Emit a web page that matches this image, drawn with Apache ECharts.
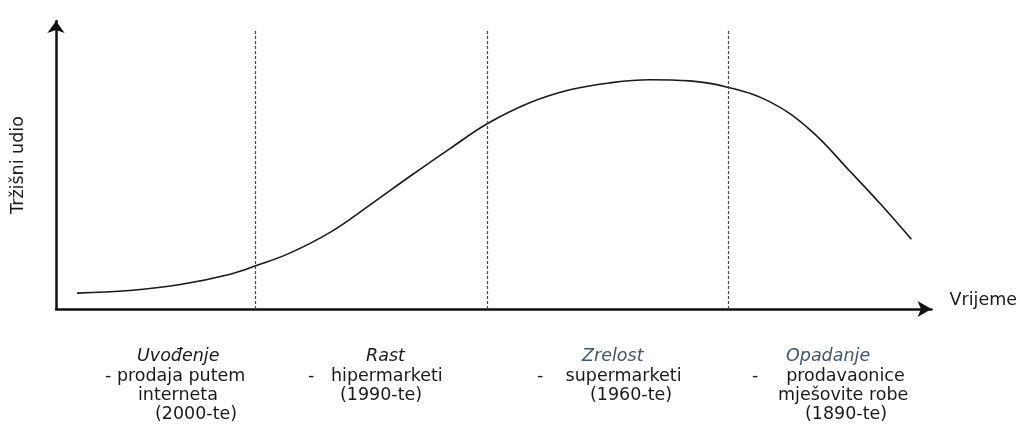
<!DOCTYPE html>
<html>
<head>
<meta charset="utf-8">
<script src="https://cdn.jsdelivr.net/npm/echarts@6/dist/echarts.min.js"></script>
<style>
  html, body { margin: 0; padding: 0; background: #fff; }
  #chart { width: 1020px; height: 425px; }
</style>
</head>
<body>
<div id="chart"></div>
<script>
"use strict";

// krivulja životnog ciklusa (vrijeme, tržišni udio)
var timeVals  = [2.4, 8.4, 14.2, 19.9, 22.9, 26.7, 31.3, 35.8, 40.4, 45.0, 49.3, 54.1, 58.7, 63.2, 67.8, 72.4, 76.7, 81.5, 86.1, 90.6, 94.1, 97.7];
var shareVals = [5.5, 6.4, 8.5, 12.1, 15.1, 19.4, 26.6, 36.0, 46.0, 55.7, 64.4, 71.6, 76.1, 78.5, 79.6, 79.2, 77.0, 72.0, 62.3, 48.1, 36.7, 24.2];

// granice faza
var phaseBounds = [22.8, 49.3, 76.8];

var phaseNames = ["Uvođenje", "Rast", "Zrelost", "Opadanje"];
var phaseLines = [
    ["- prodaja putem", "interneta", "(2000-te)"],
    ["-   hipermarketi", "(1990-te)"],
    ["-    supermarketi", "(1960-te)"],
    ["-     prodavaonice", "mješovite robe", "(1890-te)"]
];

var chart = echarts.init(document.getElementById("chart"));

var font = "DejaVu Sans, Verdana, sans-serif";
var fs = 17.5;
var nameColors = ["#1a1a1a", "#1a1a1a", "#44546a", "#44546a"];
var nameLeft = [137, 366, 582, 786];
var lineLeft = [
    [105, 138, 155],
    [308, 340],
    [537, 590],
    [752, 778, 805]
];

var graphics = [];
phaseNames.forEach(function (n, i) {
    graphics.push({
        type: "text", left: nameLeft[i], top: 347,
        style: { text: n, font: "italic " + fs + "px " + font, fill: nameColors[i] }
    });
    phaseLines[i].forEach(function (t, j) {
        graphics.push({
            type: "text", left: lineLeft[i][j], top: 367 + j * 19,
            style: { text: t, font: fs + "px " + font, fill: "#1a1a1a" }
        });
    });
});

var curve = timeVals.map(function (t, i) { return [t, shareVals[i]]; });

chart.setOption({
    animation: false,
    grid: { left: 56, right: 88, top: 21, bottom: 116 },
    xAxis: {
        type: "value", min: 0, max: 100,
        name: "Vrijeme", nameLocation: "end", nameGap: 18,
        nameTextStyle: { fontFamily: font, fontSize: fs, color: "#1a1a1a", verticalAlign: "bottom" },
        axisLine: { lineStyle: { color: "#111", width: 2.5 }, symbol: ["none", "arrow"], symbolSize: [12, 14] },
        axisTick: { show: false }, axisLabel: { show: false }, splitLine: { show: false }
    },
    yAxis: {
        type: "value", min: 0, max: 100,
        name: "Tržišni udio", nameLocation: "middle", nameGap: 29, nameRotate: 90,
        nameTextStyle: { fontFamily: font, fontSize: fs, color: "#1a1a1a" },
        axisLine: { lineStyle: { color: "#111", width: 2.5 }, symbol: ["none", "arrow"], symbolSize: [13, 12] },
        axisTick: { show: false }, axisLabel: { show: false }, splitLine: { show: false }
    },
    series: [{
        type: "line",
        data: curve,
        smooth: 0.4,
        showSymbol: false,
        lineStyle: { color: "#1a1a1a", width: 1.6 },
        markLine: {
            silent: true,
            symbol: ["none", "none"],
            label: { show: false },
            lineStyle: { color: "#444", type: [3, 2], width: 1.2 },
            data: phaseBounds.map(function (b) {
                return [{ coord: [b, 0] }, { coord: [b, 97.2] }];
            })
        }
    }],
    graphic: graphics
});
</script>
</body>
</html>
